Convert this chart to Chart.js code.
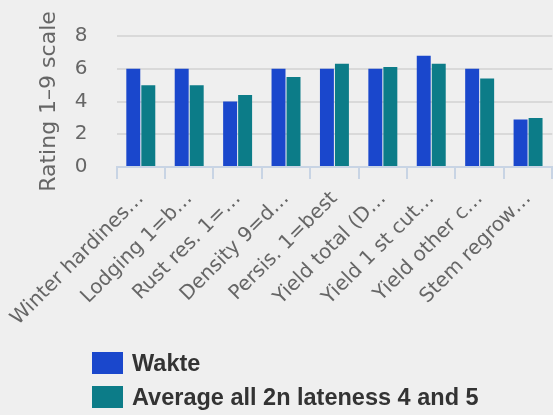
<!DOCTYPE html>
<html>
<head>
<meta charset="utf-8">
<script src="https://cdn.jsdelivr.net/npm/chart.js@4"></script>
<style>
  html, body { margin: 0; padding: 0; background: #efefef; }
  #wrap { position: relative; width: 553px; height: 415px; overflow: hidden; }
  #legend { position: absolute; left: 92px; top: 346px; font-family: "Liberation Sans", Arial, sans-serif; font-weight: bold; font-size: 23.5px; color: #333; }
  .item { display: flex; align-items: center; height: 34px; }
  .box { width: 31px; height: 22px; margin-right: 9px; }
</style>
</head>
<body>
<div id="wrap">
  <canvas id="chart" width="553" height="415"></canvas>
  <div id="legend"></div>
</div>
<script>
// Chart data
const categories = ['Winter hardines\u2026', 'Lodging 1=b\u2026', 'Rust res. 1=\u2026', 'Density 9=d\u2026',
  'Persis. 1=best', 'Yield total (D\u2026', 'Yield 1 st cut\u2026', 'Yield other c\u2026', 'Stem regrow\u2026'];
const wakte = [6, 6, 4, 6, 6, 6, 6.8, 6, 2.9];
const average = [5.0, 5.0, 4.4, 5.5, 6.3, 6.1, 6.3, 5.4, 3.0];
const yTicks = [0, 2, 4, 6, 8];

const seriesNames = ['Wakte', 'Average all 2n lateness 4 and 5'];
const seriesColors = ['#1a47cc', '#0c7c88'];

// Build legend as html text
const legend = document.getElementById('legend');
seriesNames.forEach((name, i) => {
  const row = document.createElement('div');
  row.className = 'item';
  row.innerHTML = `<span class="box" style="background:${seriesColors[i]}"></span><span>${name}</span>`;
  legend.appendChild(row);
});

const fontFamily = 'DejaVu Sans';

new Chart(document.getElementById('chart'), {
  type: 'bar',
  data: {
    labels: categories,
    datasets: [
      { label: seriesNames[0], data: wakte, backgroundColor: seriesColors[0] },
      { label: seriesNames[1], data: average, backgroundColor: seriesColors[1] }
    ]
  },
  options: {
    responsive: false,
    animation: false,
    layout: { padding: { top: 36, right: 0, left: 0, bottom: 0 } },
    datasets: { bar: { categoryPercentage: 0.62, barPercentage: 0.93 } },
    plugins: { legend: { display: false }, tooltip: { enabled: false } },
    scales: {
      x: {
        afterFit: (scale) => { scale.height = 415 - 167; },
        grid: { offset: true, drawOnChartArea: false, tickLength: 12, color: '#c8d4e4', lineWidth: 2 },
        border: { color: '#c8d4e4', width: 2 },
        ticks: { color: '#666', font: { family: fontFamily, size: 20 }, minRotation: 45, maxRotation: 45, padding: 8, autoSkip: false }
      },
      y: {
        min: 0,
        max: 8,
        afterFit: (scale) => { scale.width = 116; },
        afterBuildTicks: (scale) => { scale.ticks = yTicks.map(v => ({ value: v })); },
        grid: { tickLength: 26, tickColor: 'rgba(0,0,0,0)', color: '#d9d9d9', lineWidth: 2 },
        border: { display: false },
        ticks: { color: '#666', font: { family: fontFamily, size: 20 }, padding: 3 },
        title: {
          display: true,
          text: 'Rating 1\u20139 scale',
          color: '#666',
          font: { family: fontFamily, size: 22 },
          padding: { top: 35, bottom: 0 }
        }
      }
    }
  }
});
</script>
</body>
</html>
